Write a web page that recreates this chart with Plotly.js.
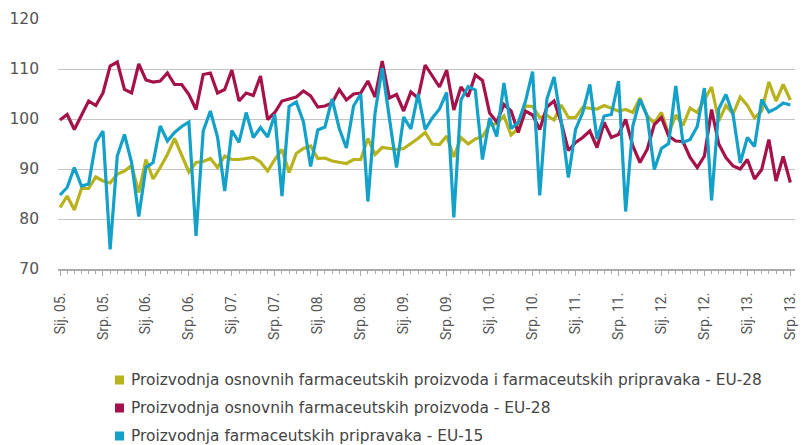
<!DOCTYPE html>
<html>
<head>
<meta charset="utf-8">
<script src="https://cdn.plot.ly/plotly-3.0.1.min.js"></script>
<style>html,body{margin:0;padding:0;background:#fff;} #chart{width:802px;height:445px;}</style>
</head>
<body>
<div id="chart"></div>
<script>
// Monthly index values, Sij. 2005 – Srp. 2013
const seriesNames = [
  "Proizvodnja osnovnih farmaceutskih proizvoda i farmaceutskih pripravaka - EU-28",
  "Proizvodnja osnovnih farmaceutskih proizvoda - EU-28",
  "Proizvodnja farmaceutskih pripravaka - EU-15"
];
const tickLabels = ["Sij. 05.","Srp. 05.","Sij. 06.","Srp. 06.","Sij. 07.","Srp. 07.","Sij. 08.","Srp. 08.","Sij. 09.","Srp. 09.","Sij. 10.","Srp. 10.","Sij. 11.","Srp. 11.","Sij. 12.","Srp. 12.","Sij. 13.","Srp. 13."];
const yellowVals = [82.3,84.6,81.8,86.1,86.1,88.4,87.6,87.2,89.0,89.6,90.7,85.3,91.9,88.0,90.3,92.9,96.1,92.6,89.4,91.3,91.5,92.1,90.3,92.6,91.9,91.9,92.1,92.3,91.4,89.6,91.9,93.9,89.3,93.1,94.1,94.6,92.1,92.2,91.6,91.3,91.1,91.9,91.9,96.1,92.9,94.3,94.1,93.9,94.1,95.1,96.1,97.3,95.0,94.9,96.6,92.4,96.3,95.0,96.0,96.5,98.8,99.1,100.6,96.8,98.1,102.6,102.5,100.3,100.7,99.8,102.8,100.3,100.3,102.3,102.2,102.0,102.7,102.1,101.6,101.9,101.3,104.2,100.6,99.2,101.3,97.0,100.8,98.7,102.2,101.3,104.0,106.4,99.6,102.7,101.0,104.4,102.7,100.2,101.6,107.4,103.6,106.9,103.8];
const redVals = [99.8,100.9,97.9,100.6,103.6,102.7,105.2,110.6,111.4,105.9,105.2,111.0,107.8,107.4,107.6,109.2,106.9,106.9,104.9,101.9,108.9,109.2,105.2,105.9,109.8,103.6,105.2,104.7,108.6,99.9,101.3,103.6,104.0,104.4,105.6,104.6,102.4,102.6,103.2,105.9,103.8,105.0,105.2,107.6,104.4,111.6,104.2,104.9,101.6,105.4,104.2,110.8,108.6,106.4,109.8,101.8,106.4,104.5,108.8,107.7,101.2,99.4,102.9,101.6,97.3,101.6,100.8,97.9,102.4,103.6,99.3,93.7,95.3,96.3,97.6,94.3,99.3,96.3,96.9,99.9,94.6,91.3,93.9,98.9,100.3,96.6,95.6,95.5,92.3,90.3,92.6,101.9,95.0,92.3,90.6,90.0,91.9,88.0,89.9,95.9,87.6,92.5,87.3];
const blueVals = [84.8,86.3,90.3,86.6,87.0,95.3,97.6,73.9,92.6,96.9,91.3,80.5,90.3,91.3,98.6,95.6,97.3,98.5,99.4,76.6,97.6,101.6,96.4,85.6,97.7,95.3,101.3,96.3,98.3,96.4,100.9,84.6,102.5,103.4,99.4,90.5,97.8,98.4,104.0,98.1,94.2,102.6,105.0,83.5,101.2,110.2,100.2,90.3,100.4,98.0,105.0,97.9,100.2,102.0,105.3,80.3,103.8,106.5,105.8,91.9,100.2,96.5,107.2,98.1,99.3,103.5,109.5,84.7,104.0,108.4,99.5,88.3,97.9,101.3,106.9,96.0,100.6,100.9,107.6,81.5,98.6,103.9,100.6,89.9,94.1,95.1,106.6,95.3,95.9,98.5,106.2,83.7,102.0,104.9,100.9,91.2,96.3,94.5,103.9,101.4,102.1,103.2,102.8];
const colors = ["#b8b21c", "#a5124a", "#13a0c9"];

const months = yellowVals.map((_, i) => i);
const tickPos = tickLabels.map((_, k) => k * 6);
const allVals = [yellowVals, redVals, blueVals];

const FONT = "'DejaVu Sans', 'Roboto', sans-serif";
const traces = allVals.map((vals, s) => ({
  x: months, y: vals, type: "scatter", mode: "lines",
  name: seriesNames[s],
  line: {color: colors[s], width: 3.2},
  showlegend: false, hoverinfo: "skip"
}));

// legend built from annotations + small square shapes (plot area: l=58, w=737, t=19, h=250)
const L = 58, W = 737, T = 19, H = 250;
const px = v => (v - L) / W;
const py = v => (T + H - v) / H;
const legendRows = [380, 408, 436];
const shapes = [], annotations = [];
seriesNames.forEach((name, s) => {
  const cy = legendRows[s];
  shapes.push({
    type: "rect", xref: "paper", yref: "paper",
    x0: px(115), x1: px(124), y0: py(cy + 4.5), y1: py(cy - 4.5),
    fillcolor: colors[s], line: {width: 0}
  });
  annotations.push({
    xref: "paper", yref: "paper", x: px(129), y: py(cy),
    xanchor: "left", yanchor: "middle", showarrow: false,
    text: name, font: {family: FONT, size: 15.4, color: "#444"}
  });
});

const layout = {
  width: 802, height: 445,
  margin: {l: L, r: 802 - L - W, t: T, b: 445 - T - H},
  paper_bgcolor: "#fff", plot_bgcolor: "#fff",
  showlegend: false,
  shapes: shapes, annotations: annotations,
  xaxis: {
    range: [-0.28, 102.65],
    tickmode: "array", tickvals: tickPos, ticktext: tickLabels,
    tickangle: -90,
    tickfont: {family: "Roboto, sans-serif", size: 14, color: "#555"},
    ticks: "outside", ticklen: 5, tickwidth: 1, tickcolor: "#aaa",
    ticklabelstandoff: 11,
    minor: {ticks: "outside", dtick: 1, tick0: 0, ticklen: 3, tickwidth: 1, tickcolor: "#aaa"},
    showline: true, linecolor: "#aaa", linewidth: 2,
    showgrid: false, zeroline: false, fixedrange: true
  },
  yaxis: {
    range: [70, 120], dtick: 10, tick0: 70,
    tickfont: {family: FONT, size: 15.5, color: "#555"},
    ticks: "", ticklabelstandoff: 18,
    showgrid: true, gridcolor: "#c4c4c4", gridwidth: 1,
    showline: false, zeroline: false, fixedrange: true
  }
};

Plotly.newPlot("chart", traces, layout, {displayModeBar: false, staticPlot: true});
</script>
</body>
</html>
